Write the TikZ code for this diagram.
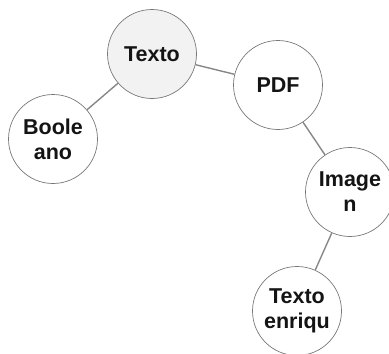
\documentclass[tikz,border=0pt]{standalone}
\usepackage{fontspec}
\setmainfont{Liberation Sans}
\usetikzlibrary{positioning}
\definecolor{cB}{RGB}{120,120,120}
\definecolor{cE}{RGB}{135,135,135}
\definecolor{cF}{RGB}{242,242,242}
\definecolor{cT}{RGB}{20,20,20}

\begin{document}
\begin{tikzpicture}[x=1pt, y=-1pt,
                    topic/.style={circle, draw=cB, fill=white, line width=0.7pt, minimum size=89pt,
                                  inner sep=0pt, align=center, text=cT,
                                  font=\bfseries\fontsize{21.5}{25}\selectfont},
                    link/.style={draw=cE, line width=1.4pt}]
    \useasboundingbox (0,0) rectangle (389,354);
    \clip (0,0) rectangle (389,354);

    % Topics
    \node[topic, fill=cF] (texto) at (152, 54) {Texto};
    \node[topic] (pdf) at (278, 85) {PDF};
    \node[topic] (booleano) at (53, 139) {Boole\\ano};
    \node[topic] (imagen) at (350, 192) {Image\\n};
    \node[topic] (enriq) at (297, 311) {Texto\\enriqu};

    % Links
    \path[link]
    (texto) edge (booleano)
    (texto) edge (pdf)
    (pdf) edge (imagen)
    (imagen) edge (enriq);

\end{tikzpicture}
\end{document}
